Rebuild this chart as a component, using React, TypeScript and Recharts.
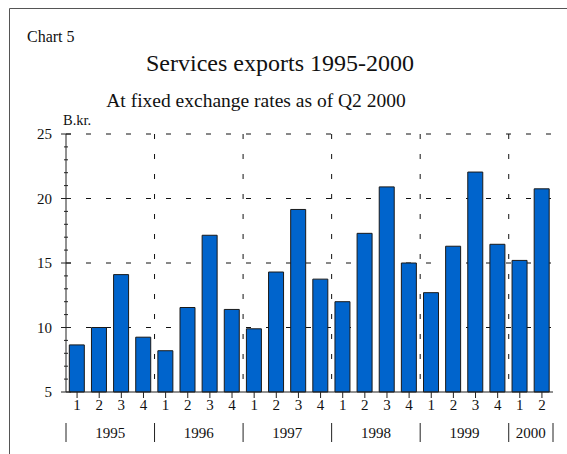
import React from 'react';
import { BarChart, Bar, XAxis, YAxis, CartesianGrid } from 'recharts';

// quarterly services exports, B.kr.
const years = ['1995', '1996', '1997', '1998', '1999', '2000'];
const quartersPerYear = [4, 4, 4, 4, 4, 2];
const exportsBkr = [
  8.65, 10.0, 14.1, 9.25,
  8.2, 11.55, 17.15, 11.4,
  9.9, 14.3, 19.15, 13.75,
  12.0, 17.3, 20.9, 15.0,
  12.7, 16.3, 22.05, 16.45,
  15.2, 20.75,
];
const yTicks = [5, 6, 7, 8, 9, 10, 11, 12, 13, 14, 15, 16, 17, 18, 19, 20, 21, 22, 23, 24, 25];

const chartData: { period: string; year: string; q: number; qCount: number; value: number }[] = [];
{
  let k = 0;
  years.forEach((year, yi) => {
    for (let q = 1; q <= quartersPerYear[yi]; q++) {
      chartData.push({ period: `${year}-${q}`, year, q, qCount: quartersPerYear[yi], value: exportsBkr[k++] });
    }
  });
}

if (typeof document !== 'undefined') document.body.style.margin = '0';

const FONT = '"Liberation Serif", "Times New Roman", serif';
const INK = '#111';
const AXIS = '#222';
const W = 567;
const H = 454;

function YTick(props: any) {
  const { x, y, payload } = props;
  const major = payload.value % 5 === 0;
  return (
    <g>
      <line x1={major ? x - 5 : x - 2} x2={major ? x + 5 : x + 2} y1={y} y2={y} stroke={AXIS} />
      {major && (
        <text x={x - 14} y={y + 5} textAnchor="end" fontFamily={FONT} fontSize={15} fill={INK}>
          {payload.value}
        </text>
      )}
    </g>
  );
}

function XTick(props: any) {
  const { x, y, payload, index } = props;
  const d = chartData[index] ?? chartData.find(r => r.period === payload.value);
  const half = payload.offset ?? 11;
  const isLast = index === chartData.length - 1;
  const showYear = d && d.q === Math.max(1, d.qCount / 2);
  return (
    <g>
      <line x1={x} x2={x} y1={y} y2={y + 6} stroke={AXIS} />
      <text x={x} y={y + 18} textAnchor="middle" fontFamily={FONT} fontSize={15} fill={INK}>
        {d?.q}
      </text>
      {d && d.q === 1 && <line x1={x - half} x2={x - half} y1={y + 31} y2={y + 50} stroke={AXIS} />}
      {isLast && <line x1={x + half} x2={x + half} y1={y + 31} y2={y + 50} stroke={AXIS} />}
      {showYear && (
        <text x={x + half} y={y + 46} textAnchor="middle" fontFamily={FONT} fontSize={15} fill={INK}>
          {d.year}
        </text>
      )}
    </g>
  );
}

export default function App() {
  const yearStarts = chartData.filter(r => r.q === 1 && r.year !== years[0]).map(r => r.period);
  return (
    <div style={{ position: 'relative', width: W, height: H, overflow: 'hidden', background: '#fff' }}>
      <BarChart
        width={W}
        height={H}
        data={chartData}
        margin={{ top: 134, right: 14, left: 6, bottom: 2 }}
        barCategoryGap="15%"
      >
        <CartesianGrid
          stroke="#111"
          strokeDasharray="5 15"
          horizontalValues={[10, 15, 20, 25]}
          verticalCoordinatesGenerator={({ xAxis, offset }: any) =>
            yearStarts.map(p => {
              const sc = xAxis?.scale;
              const v = typeof sc === 'function' ? sc(p) : undefined;
              if (typeof v === 'number' && !isNaN(v)) return v;
              const i = chartData.findIndex(r => r.period === p);
              return offset.left + (i * offset.width) / chartData.length;
            })
          }
        />
        <XAxis
          dataKey="period"
          interval={0}
          height={60}
          tickSize={0}
          tickMargin={0}
          tickLine={false}
          axisLine={{ stroke: AXIS }}
          tick={<XTick />}
        />
        <XAxis xAxisId="top" dataKey="period" orientation="top" height={0} tick={false} tickLine={false} axisLine={{ stroke: '#444' }} />
        <YAxis
          domain={[5, 25]}
          ticks={yTicks}
          interval={0}
          width={60}
          tickSize={0}
          tickMargin={0}
          tickLine={false}
          axisLine={{ stroke: AXIS }}
          tick={<YTick />}
        />
        <YAxis yAxisId="right" orientation="right" domain={[5, 25]} width={0} tick={false} tickLine={false} axisLine={{ stroke: '#444' }} />
        <Bar dataKey="value" fill="#0064CC" stroke="#1a1a1a" strokeWidth={1} isAnimationActive={false} />
      </BarChart>
      <svg width={W} height={H} style={{ position: 'absolute', left: 0, top: 0, pointerEvents: 'none' }}>
        <line x1={9.5} x2={W} y1={8.5} y2={8.5} stroke="#555" />
        <line x1={9.5} x2={9.5} y1={8.5} y2={H} stroke="#555" />
        <text x={27} y={42} fontFamily={FONT} fontSize={16} fill={INK}>Chart 5</text>
        <text x={280} y={71} textAnchor="middle" fontFamily={FONT} fontSize={24} fill={INK}>
          Services exports 1995-2000
        </text>
        <text x={256} y={107} textAnchor="middle" fontFamily={FONT} fontSize={19.5} fill={INK}>
          At fixed exchange rates as of Q2 2000
        </text>
        <text x={63} y={125} fontFamily={FONT} fontSize={14.5} fill={INK}>B.kr.</text>
      </svg>
    </div>
  );
}
